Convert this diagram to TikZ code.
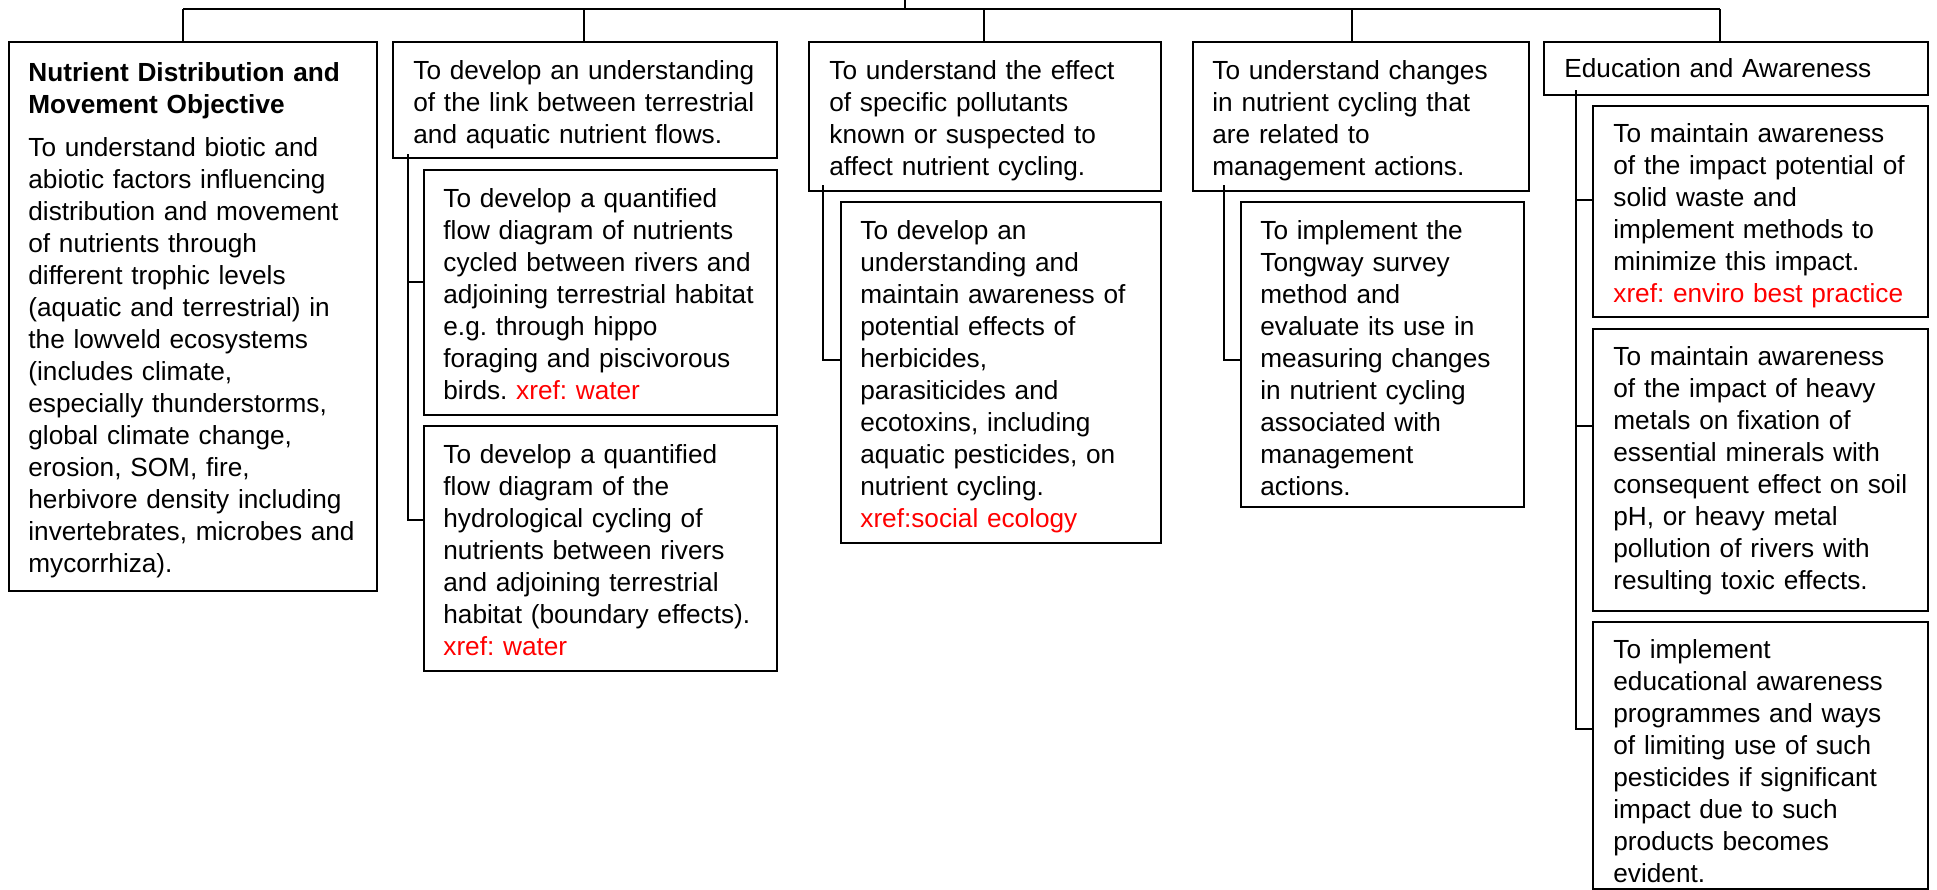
\documentclass[tikz,border=0pt]{standalone}
\usepackage{fontspec}
\setmainfont{Liberation Sans}
\usetikzlibrary{calc}
\definecolor{xrefred}{RGB}{255,0,0}
\newcommand\xref[1]{\textcolor{xrefred}{#1}}
% box from (x1,y1) to (x2,y2) in pixel units
\newcommand\obox[5]{\node[obox, anchor=north west, minimum width={(#4-#2)*0.5pt}, minimum height={(#5-#3)*0.5pt}] (#1) at (#2,#3) {};}
\begin{document}
\frenchspacing
\begin{tikzpicture}[x=0.5pt,y=-0.5pt,
  obox/.style={draw=black, line width=1.2pt, fill=white, inner sep=0pt},
  txt/.style={inner sep=0pt, text width=200pt, align=left, font=\fontsize{13.1pt}{16pt}\selectfont},
  link/.style={draw=black, line width=1.1pt}]
\useasboundingbox (0,0) rectangle (1937,889);

% objective boxes
\obox{b1}{8}{41}{376}{590}
\obox{b2}{392}{41}{776}{157}
\obox{b2a}{423}{169}{776}{414}
\obox{b2b}{423}{425}{776}{670}
\obox{b3}{808}{41}{1160}{190}
\obox{b3a}{840}{201}{1160}{542}
\obox{b4}{1192}{41}{1528}{190}
\obox{b4a}{1240}{201}{1523}{506}
\obox{b5}{1543}{41}{1927}{94}
\obox{b5a}{1592}{105}{1927}{316}
\obox{b5b}{1592}{328}{1927}{610}
\obox{b5c}{1592}{621}{1927}{888}

% top bus with the drops to each objective
\coordinate (root) at (905,0);
\coordinate (busL) at (183,9);
\coordinate (busR) at (1720,9);
\draw[link] (root) -- (root |- busL);
\draw[link] (busL) -- (busR);
\draw[link] (busL) -- (busL |- b1.north);
\draw[link] (584,9) -- (584,9 |- b2.north);
\draw[link] (984,9) -- (984,9 |- b3.north);
\draw[link] (1352,9) -- (1352,9 |- b4.north);
\draw[link] (busR) -- (busR |- b5.north);

% sub-objective connectors
\draw[link] ($(b2.south west)+(16,-5)$) |- ($(b2b.north west)+(0,95)$);
\draw[link] ($(b2a.north west)+(0,113)$) -- ++(-15,0);
\draw[link] ($(b3.south west)+(15,-7)$) |- ($(b3a.north west)+(0,159)$);
\draw[link] ($(b4.south west)+(32,-7)$) |- ($(b4a.north west)+(0,159)$);
\draw[link] ($(b5.south west)+(33,-6)$) |- ($(b5c.north west)+(0,108)$);
\draw[link] ($(b5a.north west)+(0,95)$) -- ++(-16,0);
\draw[link] ($(b5b.north west)+(0,98)$) -- ++(-16,0);

% texts
\node[txt, anchor=base west] (t1) at ($(b1.north west)+(20,40)$) {\textbf{Nutrient Distribution and\\Movement Objective}\\[5.5pt]To understand biotic and\\abiotic factors influencing\\distribution and movement\\of nutrients through\\different trophic levels\\(aquatic and terrestrial) in\\the lowveld ecosystems\\(includes climate,\\especially thunderstorms,\\global climate change,\\erosion, SOM, fire,\\herbivore density including\\invertebrates, microbes and\\mycorrhiza).};
\node[txt, anchor=base west] (t2) at ($(b2.north west)+(21,38)$) {To develop an understanding\\of the link between terrestrial\\and aquatic nutrient flows.};
\node[txt, anchor=base west] (t2a) at ($(b2a.north west)+(20,38)$) {To develop a quantified\\flow diagram of nutrients\\cycled between rivers and\\adjoining terrestrial habitat\\e.g. through hippo\\foraging and piscivorous\\birds. \xref{xref: water}};
\node[txt, anchor=base west] (t2b) at ($(b2b.north west)+(20,38)$) {To develop a quantified\\flow diagram of the\\hydrological cycling of\\nutrients between rivers\\and adjoining terrestrial\\habitat (boundary effects).\\\xref{xref: water}};
\node[txt, anchor=base west] (t3) at ($(b3.north west)+(21,38)$) {To understand the effect\\of specific pollutants\\known or suspected to\\affect nutrient cycling.};
\node[txt, anchor=base west] (t3a) at ($(b3a.north west)+(20,38)$) {To develop an\\understanding and\\maintain awareness of\\potential effects of\\herbicides,\\parasiticides and\\ecotoxins, including\\aquatic pesticides, on\\nutrient cycling.\\\xref{xref:social ecology}};
\node[txt, anchor=base west] (t4) at ($(b4.north west)+(20,38)$) {To understand changes\\in nutrient cycling that\\are related to\\management actions.};
\node[txt, anchor=base west] (t4a) at ($(b4a.north west)+(20,38)$) {To implement the\\Tongway survey\\method and\\evaluate its use in\\measuring changes\\in nutrient cycling\\associated with\\management\\actions.};
\node[txt, anchor=base west] (t5) at ($(b5.north west)+(21,36)$) {Education and Awareness};
\node[txt, anchor=base west] (t5a) at ($(b5a.north west)+(21,37)$) {To maintain awareness\\of the impact potential of\\solid waste and\\implement methods to\\minimize this impact.\\\xref{xref: enviro best practice}};
\node[txt, anchor=base west] (t5b) at ($(b5b.north west)+(21,37)$) {To maintain awareness\\of the impact of heavy\\metals on fixation of\\essential minerals with\\consequent effect on soil\\pH, or heavy metal\\pollution of rivers with\\resulting toxic effects.};
\node[txt, anchor=base west] (t5c) at ($(b5c.north west)+(21,37)$) {To implement\\educational awareness\\programmes and ways\\of limiting use of such\\pesticides if significant\\impact due to such\\products becomes\\evident.};
\end{tikzpicture}
\end{document}
